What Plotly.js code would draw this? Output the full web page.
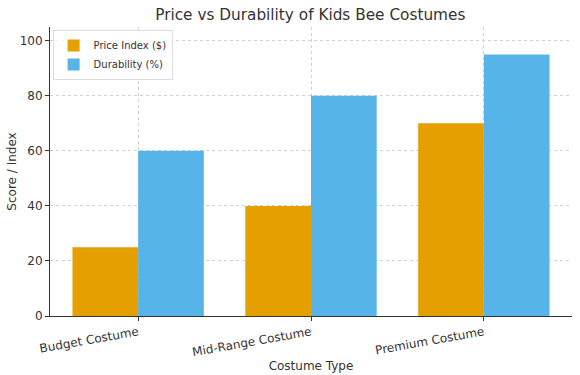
<!DOCTYPE html>
<html>
<head>
<meta charset="utf-8">
<script src="https://cdn.plot.ly/plotly-3.0.1.min.js"></script>
<style>html,body{margin:0;padding:0;background:#fff;}#chart{width:580px;height:375px;}</style>
</head>
<body>
<div id="chart"></div>
<script>
const categories = ["Budget Costume", "Mid-Range Costume", "Premium Costume"];
const priceIndex = [25, 40, 70];
const durability = [60, 80, 95];
const yTicks = [0, 20, 40, 60, 80, 100];

const font = "DejaVu Sans, sans-serif";
const traces = [
  {type: "bar", name: "Price Index ($)", x: categories, y: priceIndex,
   marker: {color: "#E69F00"}},
  {type: "bar", name: "Durability (%)", x: categories, y: durability,
   marker: {color: "#56B4E9"}}
];
const layout = {
  width: 580, height: 375,
  margin: {l: 50, r: 8, t: 27, b: 59, autoexpand: false},
  paper_bgcolor: "#fff", plot_bgcolor: "#fff",
  font: {family: font, color: "#333", size: 12},
  title: {text: "Price vs Durability of Kids Bee Costumes", font: {family: font, size: 15.3, color: "#333"},
          x: 0.535, xanchor: "center", y: 0.975, yanchor: "top"},
  barmode: "group", bargap: 0.24, bargroupgap: 0,
  showlegend: true,
  legend: {x: 0.005, y: 0.99, xanchor: "left", yanchor: "top", bgcolor: "rgba(255,255,255,0.8)",
           bordercolor: "#ddd", borderwidth: 1, font: {family: font, size: 10, color: "#333"},
           tracegroupgap: 0, itemwidth: 30},
  xaxis: {
    type: "category", range: [-0.51, 2.51], automargin: false,
    title: {text: "Costume Type", font: {family: font, size: 12, color: "#333"}, standoff: 0},
    tickangle: -10, tickfont: {family: font, size: 12, color: "#333"},
    showgrid: true, gridcolor: "#d0d0d0", griddash: "dot", gridwidth: 1,
    showline: true, linecolor: "#333", linewidth: 1,
    ticks: "outside", ticklen: 4, tickcolor: "#333", zeroline: false
  },
  yaxis: {
    range: [0, 105], tickvals: yTicks, automargin: false,
    title: {text: "Score / Index", font: {family: font, size: 12, color: "#333"}, standoff: 0},
    tickfont: {family: font, size: 12, color: "#333"},
    showgrid: true, gridcolor: "#d0d0d0", griddash: "dot", gridwidth: 1,
    showline: true, linecolor: "#333", linewidth: 1,
    ticks: "outside", ticklen: 4, tickcolor: "#333", zeroline: false
  }
};
Plotly.newPlot("chart", traces, layout, {displayModeBar: false, staticPlot: true});
</script>
</body>
</html>
